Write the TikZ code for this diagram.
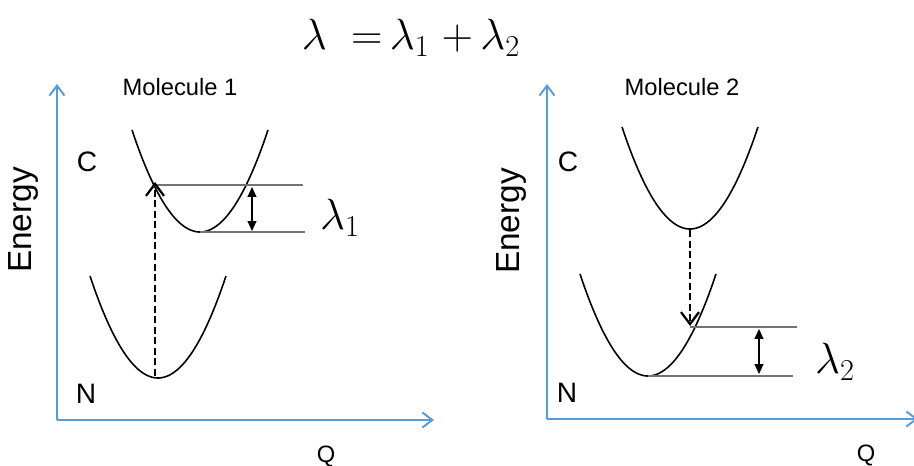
\documentclass[tikz,border=0pt]{standalone}
\usepackage{amsmath}
\usepackage[no-math]{fontspec}
\setmainfont{Liberation Sans}
\usepackage{xcolor}
\usetikzlibrary{arrows.meta}
\definecolor{axisblue}{RGB}{91,155,213}

\begin{document}
\begin{tikzpicture}[
      x=0.02cm, y=-0.02cm,
      % Reusable styles
      axis/.style={
        draw=axisblue,
        line width=1.1pt,
        -{Straight Barb[length=2mm,width=3mm]}
      },
      well/.style={line width=0.9pt, black},
      level/.style={draw=black!55, line width=0.6pt},
      jump/.style={
        line width=1.3pt,
        dash pattern=on 4pt off 2pt,
        -{Straight Barb[length=2.4mm,width=3.6mm]}
      },
      gap/.style={
        line width=0.6pt,
        {Triangle[length=2mm,width=1.8mm]}-{Triangle[length=2mm,width=1.8mm]}
      },
      state/.style={font=\fontsize{16}{18}\selectfont},
      title/.style={font=\fontsize{13.5}{16}\selectfont},
      qlabel/.style={font=\fontsize{13.5}{16}\selectfont},
      elabel/.style={font=\fontsize{19}{22}\selectfont, rotate=90},
      lam/.style={font=\fontsize{24}{28}\selectfont}
    ]
    \clip (0,0) rectangle (914,466);

    % Nodes
    \node[lam] (eq) at (411,38) {$\lambda\;\;{=}\,\lambda_1\;{+}\,\lambda_2$};

    \node[title] (mol1) at (180,87) {Molecule 1};
    \node[title] (mol2) at (682,87) {Molecule 2};

    \node[elabel] (en1) at (23,220) {Energy};
    \node[elabel] (en2) at (511,221) {Energy};

    \node[state] (c1) at (87,162) {C};
    \node[state] (n1) at (86,394) {N};
    \node[state] (c2) at (568,162) {C};
    \node[state] (n2) at (567,393) {N};

    \node[qlabel] (q1) at (326,456) {Q};
    \node[qlabel] (q2) at (866,455) {Q};

    \node[lam] (lam1) at (340,218) {$\lambda_1$};
    \node[lam] (lam2) at (835,362) {$\lambda_2$};

    % Axes
    \coordinate (o1) at (57,420);
    \coordinate (o2) at (547,419);
    \coordinate (y1) at (57,84);
    \coordinate (x1) at (434,420);
    \coordinate (y2) at (547,84);
    \coordinate (x2) at (918,419);
    \draw[axis] (o1) -- (y1);
    \draw[axis] (o1) -- (x1);
    \draw[axis] (o2) -- (y2);
    \draw[axis] (o2) -- (x2);

    % Potential wells
    \foreach \vx/\vy in {200/232, 158/378, 690/229, 648/376}
      \draw[well] plot[domain=-68:68, samples=60] ({\vx+\x},{\vy-102*(\x/68)^2});

    % Levels
    \coordinate (t1a) at (155,185);
    \coordinate (t1b) at (303,185);
    \coordinate (b1a) at (200,232);
    \coordinate (b1b) at (305,232);
    \coordinate (t2a) at (690,327);
    \coordinate (t2b) at (797,327);
    \coordinate (b2a) at (648,376);
    \coordinate (b2b) at (793,376);
    \draw[level] (t1a) -- (t1b);
    \draw[level] (b1a) -- (b1b);
    \draw[level] (t2a) -- (t2b);
    \draw[level] (b2a) -- (b2b);

    % Edges
    \coordinate (abs0) at (155,376);
    \coordinate (abs1) at (155,182);
    \coordinate (emi0) at (690,230);
    \coordinate (emi1) at (690,326);
    \draw[jump] (abs0) -- (abs1);
    \draw[jump] (emi0) -- (emi1);

    \coordinate (g1a) at (252,187);
    \coordinate (g1b) at (252,231);
    \coordinate (g2a) at (759,329);
    \coordinate (g2b) at (759,374);
    \draw[gap] (g1a) -- (g1b);
    \draw[gap] (g2a) -- (g2b);
  \end{tikzpicture}
\end{document}
